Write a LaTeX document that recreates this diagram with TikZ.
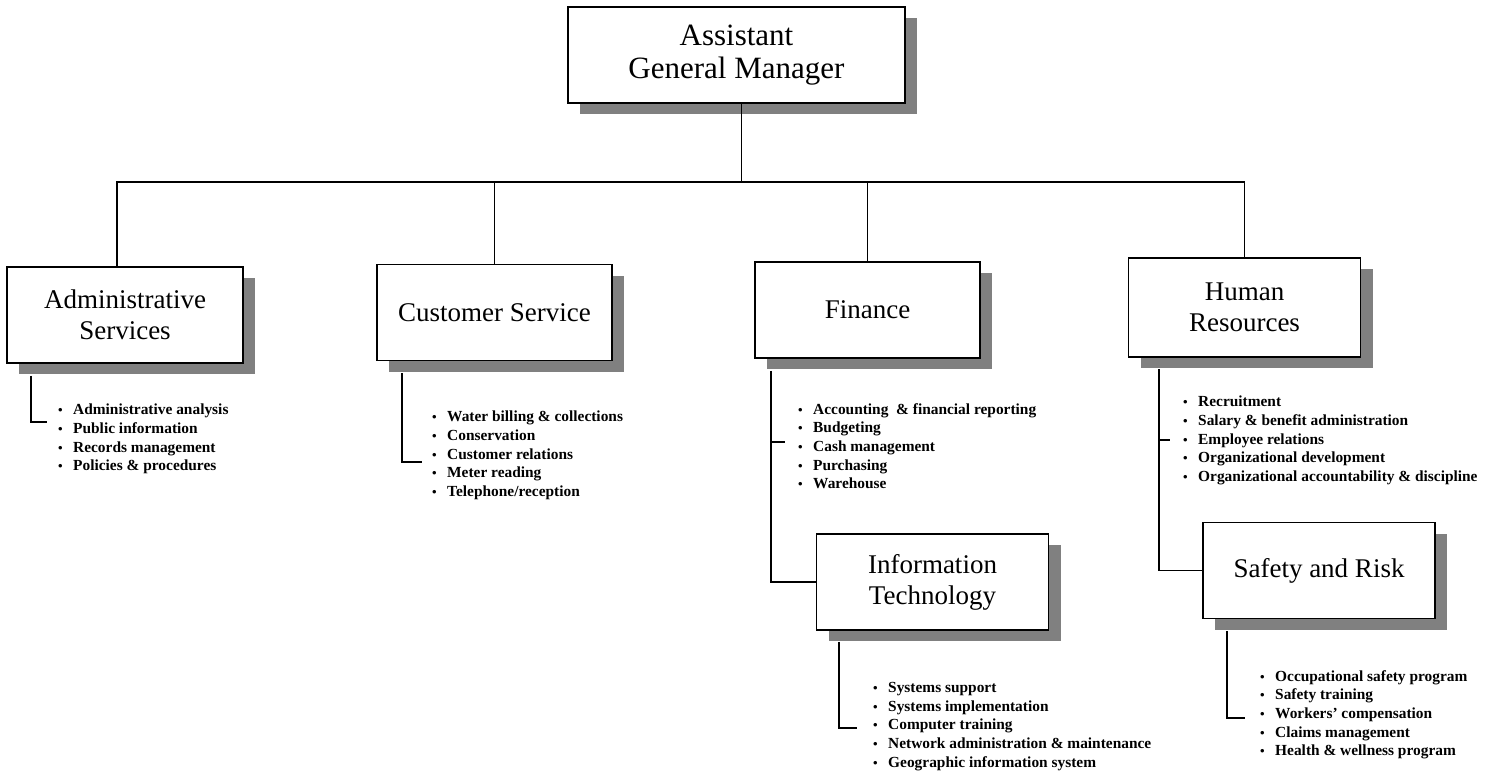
\documentclass[tikz,border=0pt]{standalone}
\usepackage{fontspec}
\setmainfont{Liberation Serif}
\usetikzlibrary{positioning, shadows, calc}
\tikzstyle{unit} = [rectangle, draw=black, line width=1.8pt, fill=white, minimum width=232pt, minimum height=96pt, text centered, align=center, font=\fontsize{27}{31}\selectfont, drop shadow={shadow xshift=12pt, shadow yshift=-11pt, fill=black!50, opacity=1}]
\tikzstyle{duties} = [align=left, anchor=north west, inner sep=0pt, font=\bfseries\fontsize{15.4}{18.7}\selectfont]
\tikzstyle{link} = [line width=1.9pt]
\newcommand{\duty}{\makebox[15pt][l]{\fontsize{13}{13}\selectfont\textbullet}}

\begin{document}
\begin{tikzpicture}[x=1pt, y=-1pt]
\useasboundingbox (0,0) rectangle (1494,771);
% boxes
\node (agm) [unit, minimum width=337pt, font=\fontsize{31}{33}\selectfont] at (736.5,55) {Assistant\\General Manager};
\node (admin) [unit, minimum width=236pt] at (125,315) {Administrative\\Services};
\node (cust) [unit, minimum width=235pt] at (494.5,312.5) {Customer Service};
\node (fin) [unit, minimum width=225pt] at (867.5,310) {Finance};
\node (hr) [unit, minimum height=99pt] at (1244.5,307.5) {Human\\Resources};
\node (it) [unit] at (932.5,582) {Information\\Technology};
\node (sr) [unit] at (1319,570.5) {Safety and Risk};

% duty lists
\node (adminlist) [duties] at (58,404) {\duty Administrative analysis\\\duty Public information\\\duty Records management\\\duty Policies \& procedures};
\node (custlist) [duties] at (432,411) {\duty Water billing \& collections\\\duty Conservation\\\duty Customer relations\\\duty Meter reading\\\duty Telephone/reception};
\node (finlist) [duties] at (798,403) {\duty Accounting~ \& financial reporting\\\duty Budgeting\\\duty Cash management\\\duty Purchasing\\\duty Warehouse};
\node (itlist) [duties] at (873,682) {\duty Systems support\\\duty Systems implementation\\\duty Computer training\\\duty Network administration \& maintenance\\\duty Geographic information system};
\node (hrlist) [duties] at (1183,396) {\duty Recruitment\\\duty Salary \& benefit administration\\\duty Employee relations\\\duty Organizational development\\\duty Organizational accountability \& discipline};
\node (srlist) [duties] at (1260,670) {\duty Occupational safety program\\\duty Safety training\\\duty Workers' compensation\\\duty Claims management\\\duty Health \& wellness program};

% tree
\coordinate (bus) at (742,182);
\draw [link] (agm.south) ++(5,0) coordinate (agmfoot) -- (agmfoot |- bus);
\draw [link] (admin.north) ++(-8,0) coordinate (adminhead) |- (hr.north |- bus) -- (hr.north);
\draw [link] (cust.north) -- (cust.north |- bus);
\draw [link] (fin.north) -- (fin.north |- bus);

% brackets to the lists
\coordinate (adminstem) at ($(admin.south west)+(25,12)$);
\coordinate (adminend) at (47,422);
\draw [link] (adminstem) |- (adminend);
\coordinate (custstem) at ($(cust.south west)+(26,12)$);
\coordinate (custend) at (422,462);
\draw [link] (custstem) |- (custend);
\coordinate (finstem) at ($(fin.south west)+(17,12)$);
\draw [link] (finstem) |- (it.west);
\coordinate (fintick) at (finstem |- 0,442);
\coordinate (finend) at (785,442);
\draw [link] (fintick) -- (finend);
\coordinate (itstem) at ($(it.south west)+(23,11)$);
\coordinate (itend) at (857,728);
\draw [link] (itstem) |- (itend);
\coordinate (hrstem) at ($(hr.south west)+(31,11)$);
\draw [link] (hrstem) |- (sr.west);
\coordinate (hrtick) at (hrstem |- 0,440);
\coordinate (hrend) at (1170,440);
\draw [link] (hrtick) -- (hrend);
\coordinate (srstem) at ($(sr.south west)+(25,12)$);
\coordinate (srend) at (1245,718);
\draw [link] (srstem) |- (srend);
\end{tikzpicture}
\end{document}
